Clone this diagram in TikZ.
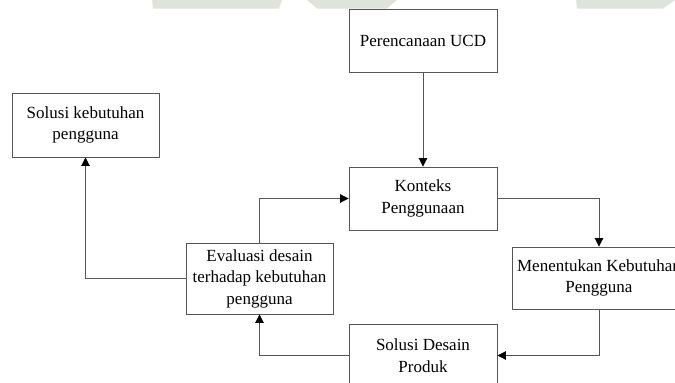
\documentclass[tikz,border=0pt]{standalone}
\usepackage{fontspec}
\setmainfont{Liberation Serif}
\usetikzlibrary{arrows.meta}
\definecolor{linegray}{RGB}{85,85,85}
\definecolor{wmark}{RGB}{223,226,221}
\tikzset{
  box/.style={draw=linegray, line width=0.9pt, fill=white, inner sep=0pt,
    align=center, font=\fontsize{17}{21.5}\selectfont},
  link/.style={draw=linegray, line width=0.9pt,
    -{Triangle[length=8.5pt,width=8.5pt,fill=black,color=black]}},
}
\begin{document}
\begin{tikzpicture}[x=1pt,y=-1pt]
\useasboundingbox (0,0) rectangle (675,383);
\clip (0,0) rectangle (675,383);
\fill[white] (0,0) rectangle (675,383);
% faint watermark remnants at the top edge
\fill[wmark] (152,0) -- (282,0) -- (279,8.5) -- (153,8.5) -- cycle;
\fill[wmark] (307,0) -- (397,0) -- (387,8.5) -- (317,8.5) -- cycle;
\fill[wmark] (576,0) -- (675,0) -- (663,8.5) -- (577,8.5) -- cycle;

\node[box, minimum width=148, minimum height=63] (plan) at (423,40.5) {Perencanaan UCD};
\node[box, minimum width=148, minimum height=63] (ctx) at (423,198.5) {Konteks\\Penggunaan};
\node[box, minimum width=147, minimum height=64] (sol) at (85.5,125) {Solusi kebutuhan\\pengguna};
\node[box, minimum width=147, minimum height=71] (eval) at (259.5,278.5) {Evaluasi desain\\terhadap kebutuhan\\pengguna};
\node[box, minimum width=174, minimum height=62] (need) at (599,278) {Menentukan Kebutuhan\\Pengguna};
\node[box, minimum width=148, minimum height=63] (design) at (423,355.5) {Solusi Desain\\Produk};

\draw[link] (plan.south) -- (ctx.north);
\draw[link] (ctx.east) -| (need.north);
\draw[link] (need.south) |- (design.east);
\draw[link] (design.west) -| (eval.south);
\draw[link] (eval.north) |- (ctx.west);
\draw[link] (eval.west) -| (sol.south);
\end{tikzpicture}
\end{document}
